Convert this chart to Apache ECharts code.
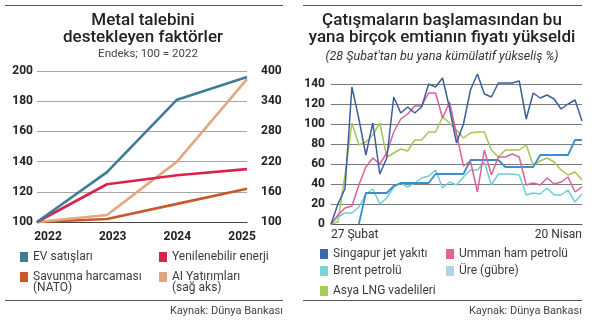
<!DOCTYPE html>
<html><head><meta charset="utf-8">
<script src="https://cdn.jsdelivr.net/npm/echarts@6/dist/echarts.min.js"></script>
<style>html,body{margin:0;padding:0;background:#fff}#c{width:600px;height:321px}</style>
</head><body><div id="c"></div>
<script>
// ---- Left chart data ----
const years = [2022, 2023, 2024, 2025];
const evSales = [100, 133, 181, 196];
const renewables = [100, 125, 131, 135];
const defence = [100, 102, 112, 122];
const aiInvest = [100, 114, 220, 384];
const leftTicks = [100, 120, 140, 160, 180, 200];
const rightTicks = [100, 160, 220, 280, 340, 400];

// ---- Right chart data ----
const dates = ['27 Şubat','2 Mart','3 Mart','4 Mart','5 Mart','6 Mart','9 Mart','10 Mart','11 Mart','12 Mart','13 Mart',
  '16 Mart','17 Mart','18 Mart','19 Mart','20 Mart','23 Mart','24 Mart','25 Mart','26 Mart','27 Mart','30 Mart','31 Mart',
  '1 Nisan','2 Nisan','3 Nisan','6 Nisan','7 Nisan','8 Nisan','9 Nisan','10 Nisan','13 Nisan','14 Nisan','15 Nisan','16 Nisan','17 Nisan','20 Nisan'];
const jetFuel = [0,20,35,137,105,69,101,50,66,127,111,117,111,117,140,137,146,116,81,100,134,150,130,127,141,141,141,143,105,131,126,129,125,115,120,124,103];
const omanCrude = [0,9,16,18,39,57,66,60,71,92,105,110,118,118,131,131,106,122,90,58,63,32,74,49,67,67,70,67,39,41,39,46,40,42,47,32,37];
const brent = [0,7,11,11,17,30,35,20,26,37,41,37,41,46,48,54,36,42,39,47,54,54,62,39,50,50,50,49,29,31,30,36,29,29,34,22,30];
const urea = [null,null,null,null,0,31,31,31,31,38,41,41,41,41,41,50,50,50,50,50,64,64,64,64,64,57,57,57,57,57,69,69,69,69,69,84,84];
const lng = [0,2,49,101,79,82,89,101,67,71,75,73,84,84,92,92,107,101,94,86,91,92,92,74,67,74,74,74,79,59,63,66,62,54,49,52,44];
const yTicksRight = [0, 20, 40, 60, 80, 100, 120, 140];

const FF = 'Roboto, "Noto Sans", sans-serif';
const pair = arr => years.map((y, i) => [y, arr[i]]);

function legendItem(name, color, x, y) {
  return {
    show: true, selectedMode: false, orient: 'horizontal',
    left: x, top: y, padding: 0, itemWidth: 8, itemHeight: 10, icon: 'rect',
    textStyle: { fontFamily: FF, fontSize: 12, color: '#3c3c3c', lineHeight: 14 },
    data: [{ name: name, itemStyle: { color: color } }]
  };
}

const chart = echarts.init(document.getElementById('c'), null, { renderer: 'canvas' });
const option = {
  animation: false,
  backgroundColor: '#fff',
  grid: [
    { left: 37, right: 353, top: 71, bottom: 99 },
    { left: 331, right: 18, top: 84, bottom: 97 }
  ],
  xAxis: [
    { type: 'value', gridIndex: 0, min: 2022, max: 2025, interval: 1,
      axisLine: { show: true, onZero: false, lineStyle: { color: '#444', width: 1 } },
      axisTick: { show: false }, axisLabel: { show: false }, splitLine: { show: false } },
    { type: 'value', gridIndex: 0, min: 2021.83, max: 2025.077, position: 'bottom',
      axisLine: { show: false }, axisTick: { show: false }, splitLine: { show: false },
      axisLabel: { show: true, customValues: years, margin: 9, fontFamily: FF, fontSize: 12, fontWeight: 'bold', color: '#222',
        formatter: v => String(Math.round(v)) } },
    { type: 'category', gridIndex: 1, data: dates, boundaryGap: false,
      axisLine: { show: true, lineStyle: { color: '#555', width: 1 } },
      axisTick: { show: false }, splitLine: { show: false },
      axisLabel: { show: true, interval: (i) => i === 0 || i === dates.length - 1, margin: 5,
        alignMinLabel: 'left', alignMaxLabel: 'right',
        fontFamily: FF, fontSize: 12, color: '#333' } }
  ],
  yAxis: [
    { type: 'value', gridIndex: 0, min: 100, max: 200, interval: 20,
      axisLine: { show: false }, axisTick: { show: false },
      splitLine: { show: true, lineStyle: { color: '#a5a5a5', width: 1 } },
      axisLabel: { margin: 4, fontFamily: FF, fontSize: 12, fontWeight: 'bold', color: '#222', customValues: leftTicks } },
    { type: 'value', gridIndex: 0, min: 100, max: 400, position: 'right',
      axisLine: { show: false }, axisTick: { show: false }, splitLine: { show: false },
      axisLabel: { margin: 14, fontFamily: FF, fontSize: 12, fontWeight: 'bold', color: '#222', customValues: rightTicks } },
    { type: 'value', gridIndex: 1, min: 0, max: 140, interval: 20,
      axisLine: { show: false }, axisTick: { show: false },
      splitLine: { show: true, lineStyle: { color: '#7a7a7a', width: 1 } },
      axisLabel: { margin: 6, fontFamily: FF, fontSize: 12, fontWeight: 'bold', color: '#222', customValues: yTicksRight } }
  ],
  legend: [
    legendItem('EV satışları', '#3d7d96', 20, 250),
    legendItem('Yenilenebilir enerji', '#d8234a', 159, 250),
    legendItem('Savunma harcaması', '#c65a28', 20, 270),
    legendItem('AI Yatırımları', '#e0a682', 159, 270),
    legendItem('Singapur jet yakıtı', '#3d6aaa', 320, 247),
    legendItem('Umman ham petrolü', '#e8609a', 446, 247),
    legendItem('Brent petrolü', '#7fd3d8', 320, 264),
    legendItem('Üre (gübre)', '#add8e3', 446, 264),
    legendItem('Asya LNG vadelileri', '#a8c95e', 320, 284)
  ],
  series: [
    { name: 'Savunma harcaması', type: 'line', xAxisIndex: 0, yAxisIndex: 0, data: pair(defence), symbol: 'none', clip: false,
      lineStyle: { color: '#c65a28', width: 2.6 }, itemStyle: { color: '#c65a28' } },
    { name: 'AI Yatırımları', type: 'line', xAxisIndex: 0, yAxisIndex: 1, data: pair(aiInvest), symbol: 'none', clip: false,
      lineStyle: { color: '#e2a780', width: 2.6 }, itemStyle: { color: '#e2a780' } },
    { name: 'Yenilenebilir enerji', type: 'line', xAxisIndex: 0, yAxisIndex: 0, data: pair(renewables), symbol: 'none', clip: false,
      lineStyle: { color: '#d8234a', width: 2.6 }, itemStyle: { color: '#d8234a' } },
    { name: 'EV satışları', type: 'line', xAxisIndex: 0, yAxisIndex: 0, data: pair(evSales), symbol: 'none', clip: false,
      lineStyle: { color: '#3d7d96', width: 2.6 }, itemStyle: { color: '#3d7d96' } },

    { name: 'Asya LNG vadelileri', type: 'line', xAxisIndex: 2, yAxisIndex: 2, data: lng, symbol: 'none', clip: false,
      lineStyle: { color: '#a6c556', width: 1.5 }, itemStyle: { color: '#a6c556' } },
    { name: 'Brent petrolü', type: 'line', xAxisIndex: 2, yAxisIndex: 2, data: brent, symbol: 'none', clip: false,
      lineStyle: { color: '#6fcddb', width: 1.5 }, itemStyle: { color: '#6fcddb' } },
    { name: 'Üre (gübre)', type: 'line', xAxisIndex: 2, yAxisIndex: 2, data: urea, symbol: 'none', clip: false,
      lineStyle: { color: '#3b8fc9', width: 1.8 }, itemStyle: { color: '#3b8fc9' } },
    { name: 'Umman ham petrolü', type: 'line', xAxisIndex: 2, yAxisIndex: 2, data: omanCrude, symbol: 'none', clip: false,
      lineStyle: { color: '#d9609a', width: 1.5 }, itemStyle: { color: '#d9609a' } },
    { name: 'Singapur jet yakıtı', type: 'line', xAxisIndex: 2, yAxisIndex: 2, data: jetFuel, symbol: 'none', clip: false,
      lineStyle: { color: '#3b5f9a', width: 1.5 }, itemStyle: { color: '#3b5f9a' } }
  ],
  graphic: [
    { type: 'line', shape: { x1: 5, y1: 5.5, x2: 283, y2: 5.5 }, style: { stroke: '#555', lineWidth: 1 } },
    { type: 'line', shape: { x1: 303, y1: 5.5, x2: 582, y2: 5.5 }, style: { stroke: '#555', lineWidth: 1 } },
    { type: 'line', shape: { x1: 5, y1: 300.5, x2: 283, y2: 300.5 }, style: { stroke: '#555', lineWidth: 1 } },
    { type: 'line', shape: { x1: 303, y1: 300.5, x2: 582, y2: 300.5 }, style: { stroke: '#555', lineWidth: 1 } },
    { type: 'text', style: { text: 'Metal talebini', x: 143, y: 21, textAlign: 'center', textVerticalAlign: 'middle', font: '500 17px ' + FF, fill: '#222' } },
    { type: 'text', style: { text: 'destekleyen faktörler', x: 143, y: 38, textAlign: 'center', textVerticalAlign: 'middle', font: '500 17px ' + FF, fill: '#222' } },
    { type: 'text', style: { text: 'Endeks; 100 = 2022', x: 148, y: 54, textAlign: 'center', textVerticalAlign: 'middle', font: '11.5px ' + FF, fill: '#444' } },
    { type: 'text', style: { text: 'Çatışmaların başlamasından bu', x: 442, y: 21, textAlign: 'center', textVerticalAlign: 'middle', font: '500 17px ' + FF, fill: '#222' } },
    { type: 'text', style: { text: 'yana birçok emtianın fiyatı yükseldi', x: 442, y: 38, textAlign: 'center', textVerticalAlign: 'middle', font: '500 17px ' + FF, fill: '#222' } },
    { type: 'text', style: { text: '(28 Şubat\'tan bu yana kümülatif yükseliş %)', x: 442, y: 57, textAlign: 'center', textVerticalAlign: 'middle', font: 'italic 12.5px ' + FF, fill: '#333' } },
    { type: 'text', style: { text: '(NATO)', x: 33, y: 288, textAlign: 'left', textVerticalAlign: 'middle', font: '12px ' + FF, fill: '#3c3c3c' } },
    { type: 'text', style: { text: '(sağ aks)', x: 172, y: 288, textAlign: 'left', textVerticalAlign: 'middle', font: '12px ' + FF, fill: '#3c3c3c' } },
    { type: 'text', style: { text: 'Kaynak: Dünya Bankası', x: 283, y: 311, textAlign: 'right', textVerticalAlign: 'middle', font: '11px ' + FF, fill: '#444' } },
    { type: 'text', style: { text: 'Kaynak: Dünya Bankası', x: 582, y: 311, textAlign: 'right', textVerticalAlign: 'middle', font: '11px ' + FF, fill: '#444' } }
  ]
};
chart.setOption(option);
</script>
</body></html>
